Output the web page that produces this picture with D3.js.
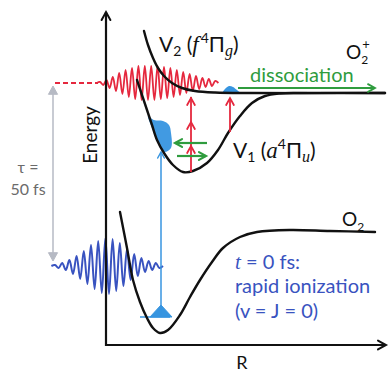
<!DOCTYPE html>
<html><head><meta charset="utf-8">
<script src="https://cdn.jsdelivr.net/npm/d3@7"></script>
<style>html,body{margin:0;padding:0;background:#fff}svg{display:block}</style>
</head><body>
<script>
// Potential energy curves, points as [R, E] (arbitrary units)
const groundCurve = [[0.14,1.33],[0.21,0.97],[0.27,0.65],[0.34,0.43],[0.41,0.27],[0.47,0.17],[0.54,0.12],[0.62,0.15],[0.74,0.30],[0.84,0.48],[0.94,0.65],[1.06,0.83],[1.17,0.97],[1.34,1.08],[1.51,1.13],[1.84,1.15],[2.24,1.14],[2.69,1.13]];
const v1Curve = [[0.31,2.65],[0.36,2.50],[0.41,2.35],[0.46,2.20],[0.51,2.05],[0.58,1.92],[0.67,1.80],[0.77,1.73],[0.87,1.74],[1.01,1.82],[1.12,1.95],[1.22,2.12],[1.34,2.29],[1.46,2.42],[1.59,2.49],[1.74,2.515],[1.94,2.52],[2.79,2.52]];
const v2Curve = [[0.38,3.14],[0.42,3.00],[0.47,2.87],[0.52,2.77],[0.58,2.69],[0.66,2.62],[0.76,2.57],[0.89,2.54],[1.09,2.525],[1.44,2.52],[2.79,2.52]];

// Laser pulses: crest amplitudes (alternating sign), first crest position, crest spacing, carrier level
const probeAmps = [0.01,0.02,0.03,0.05,0.06,0.08,0.10,0.11,0.13,0.14,0.15,0.16,0.17,0.17,0.17,0.17,0.17,0.17,0.17,0.16,0.16,0.15,0.15,0.14,0.13,0.12,0.11,0.10,0.09,0.08,0.07,0.06,0.05,0.04,0.04,0.03,0.02];
const probePulse = [-0.06, 0.032, 2.62];
const probeDashed = [-0.51, -0.08];
const pumpAmps = [0.01,0.02,0.03,0.04,0.06,0.08,0.10,0.13,0.15,0.18,0.21,0.23,0.25,0.27,0.28,0.28,0.27,0.25,0.23,0.20,0.17,0.14,0.12,0.10,0.08,0.06,0.05,0.04,0.03,0.02];
const pumpPulse = [-0.51, 0.036, 0.79];

// Wave packets
const groundLevel = [0.34, 0.64, 0.28];          // R from, R to, E
const groundPacket = [[0.44,0.28],[0.55,0.40],[0.66,0.28]];
const v1Packet = [[0.42,2.29],[0.48,2.25],[0.57,2.24],[0.63,2.20],[0.65,2.12],[0.65,1.97],[0.58,1.93],[0.51,2.04],[0.46,2.17]];
const dissocPacket = [[1.16,2.52],[1.19,2.56],[1.23,2.59],[1.27,2.58],[1.31,2.55],[1.35,2.52]];

// Transitions: [R, E from, E to]
const ionizationArrow = [0.55, 0.28, 1.93];
const probeArrowV1 = [0.85, 1.73, 2.48];
const probeArrowHeads = [2.47, 2.23, 1.99];
const probeArrowDiss = [1.24, 2.13, 2.47];
// Vibrational motion arrows: [R from, R to, E]
const motionLeft = [1.01, 0.69, 2.02];
const motionRight = [0.71, 1.00, 1.89];
const dissocArrow = [1.32, 2.69, 2.57];
// Pump-probe delay arrow: [R, E top, E bottom]
const delayArrow = [-0.53, 2.59, 0.84];

const W = 390, H = 372;
const x = d3.scaleLinear().domain([0, 2.8]).range([106, 386]);
const y = d3.scaleLinear().domain([0, 3.33]).range([345, 12]);

const RED = "#e5283e", BLUE = "#3953c0", SKY = "#3795e0", GREEN = "#2f9c3e", GRAY = "#b6bac4";
const SANS = "Lato, 'Open Sans', sans-serif";
const SERIF = "'Liberation Serif', 'DejaVu Serif', serif";

const svg = d3.select("body").append("svg").attr("width", W).attr("height", H);

const line = d3.line().x(d => x(d[0])).y(d => y(d[1]));
const smooth = d3.line().x(d => x(d[0])).y(d => y(d[1])).curve(d3.curveCatmullRom.alpha(0.5));

function pulsePoints(amps, p) {
  const [r0, step, e0] = p;
  const pts = [[r0 - step, e0]];
  amps.forEach((a, i) => pts.push([r0 + i * step, e0 + (i % 2 ? -a : a)]));
  pts.push([r0 + amps.length * step, e0]);
  return pts;
}

function head(g, px, py, dir, size, color, filled, sw) {
  // dir: angle in degrees, 0 = pointing right
  const a = dir * Math.PI / 180, s = size;
  const bx = px - Math.cos(a) * s, by = py - Math.sin(a) * s;
  const nx = -Math.sin(a) * s * 0.55, ny = Math.cos(a) * s * 0.55;
  const d = `M${bx + nx},${by + ny}L${px},${py}L${bx - nx},${by - ny}` + (filled ? "Z" : "");
  g.append("path").attr("d", d)
    .attr("fill", filled ? color : "none")
    .attr("stroke", color).attr("stroke-width", sw || 2)
    .attr("stroke-linejoin", "miter").attr("stroke-linecap", "round");
}

// Delay arrow between pump and probe
const gd = svg.append("g");
gd.append("line").attr("x1", x(delayArrow[0])).attr("x2", x(delayArrow[0]))
  .attr("y1", y(delayArrow[1]) + 4).attr("y2", y(delayArrow[2]) - 4)
  .attr("stroke", GRAY).attr("stroke-width", 1.5);
head(gd, x(delayArrow[0]), y(delayArrow[1]), -90, 8, GRAY, true, 1);
head(gd, x(delayArrow[0]), y(delayArrow[2]), 90, 8, GRAY, true, 1);

// Probe pulse
svg.append("line").attr("x1", x(probeDashed[0])).attr("x2", x(probeDashed[1]))
  .attr("y1", y(probePulse[2])).attr("y2", y(probePulse[2]))
  .attr("stroke", RED).attr("stroke-width", 1.8).attr("stroke-dasharray", "5,3");
svg.append("path").attr("d", smooth(pulsePoints(probeAmps, probePulse)))
  .attr("fill", "none").attr("stroke", RED).attr("stroke-width", 1.8);

// Pump pulse
svg.append("path").attr("d", smooth(pulsePoints(pumpAmps, pumpPulse)))
  .attr("fill", "none").attr("stroke", BLUE).attr("stroke-width", 2);

// Wave packets
svg.append("path").attr("d", line(groundPacket) + "Z").attr("fill", SKY).attr("stroke", SKY).attr("stroke-width", 1);
svg.append("line").attr("x1", x(groundLevel[0])).attr("x2", x(groundLevel[1]))
  .attr("y1", y(groundLevel[2])).attr("y2", y(groundLevel[2]))
  .attr("stroke", SKY).attr("stroke-width", 1.5);
svg.append("path").attr("d", d3.line().x(d => x(d[0])).y(d => y(d[1])).curve(d3.curveCatmullRomClosed)(v1Packet))
  .attr("fill", SKY).attr("opacity", 0.95);
svg.append("path").attr("d", smooth(dissocPacket) + "Z").attr("fill", SKY);

// Ionization transition
const gi = svg.append("g");
gi.append("line").attr("x1", x(ionizationArrow[0])).attr("x2", x(ionizationArrow[0]))
  .attr("y1", y(ionizationArrow[1])).attr("y2", y(ionizationArrow[2]))
  .attr("stroke", SKY).attr("stroke-width", 1.5);
head(gi, x(ionizationArrow[0]), y(ionizationArrow[2]), -90, 6, SKY, false, 1.5);

// Potential curves
[groundCurve, v1Curve, v2Curve].forEach(c =>
  svg.append("path").attr("d", smooth(c)).attr("fill", "none")
    .attr("stroke", "#111").attr("stroke-width", 2.4).attr("stroke-linecap", "round"));

// Probe transitions
const gp = svg.append("g");
gp.append("line").attr("x1", x(probeArrowV1[0])).attr("x2", x(probeArrowV1[0]))
  .attr("y1", y(probeArrowV1[1])).attr("y2", y(probeArrowV1[2]))
  .attr("stroke", RED).attr("stroke-width", 1.8);
probeArrowHeads.forEach(e => head(gp, x(probeArrowV1[0]), y(e), -90, 7, RED, false, 1.8));
gp.append("line").attr("x1", x(probeArrowDiss[0])).attr("x2", x(probeArrowDiss[0]))
  .attr("y1", y(probeArrowDiss[1])).attr("y2", y(probeArrowDiss[2]))
  .attr("stroke", RED).attr("stroke-width", 1.8);
head(gp, x(probeArrowDiss[0]), y(probeArrowDiss[2]), -90, 7, RED, false, 1.8);

// Nuclear motion arrows
const gm = svg.append("g");
[[motionLeft, 180], [motionRight, 0]].forEach(([m, dir]) => {
  gm.append("line").attr("x1", x(m[0])).attr("x2", x(m[1])).attr("y1", y(m[2])).attr("y2", y(m[2]))
    .attr("stroke", GREEN).attr("stroke-width", 2.2);
  head(gm, x(m[1]), y(m[2]), dir, 7, GREEN, false, 2.2);
});
gm.append("line").attr("x1", x(dissocArrow[0])).attr("x2", x(dissocArrow[1]))
  .attr("y1", y(dissocArrow[2])).attr("y2", y(dissocArrow[2]))
  .attr("stroke", GREEN).attr("stroke-width", 1.8);
head(gm, x(dissocArrow[1]), y(dissocArrow[2]), 0, 7, GREEN, false, 1.8);

// Axes
const ga = svg.append("g");
ga.append("path").attr("d", `M${x(0)},${y(3.33)}L${x(0)},${y(0)}L${x(2.8)},${y(0)}`)
  .attr("fill", "none").attr("stroke", "#111").attr("stroke-width", 2.2);
head(ga, x(0), y(3.33), -90, 8, "#111", false, 2);
head(ga, x(2.8), y(0), 0, 8, "#111", false, 2);

// Text
function txt(px, py, parts, opt) {
  const t = svg.append("text").attr("x", px).attr("y", py)
    .attr("font-family", SANS).attr("font-size", opt.size).attr("fill", opt.color);
  if (opt.rotate) t.attr("transform", `rotate(${opt.rotate},${px},${py})`).attr("text-anchor", "middle");
  if (opt.anchor) t.attr("text-anchor", opt.anchor);
  parts.forEach(p => {
    const s = t.append("tspan").text(p.t);
    if (p.dy) s.attr("dy", p.dy);
    if (p.dx) s.attr("dx", p.dx);
    if (p.sz) s.attr("font-size", p.sz);
    if (p.it) s.attr("font-family", SERIF).attr("font-style", "italic");
  });
  return t;
}

txt(97, 135, [{t: "Energy"}], {size: 19, color: "#111", rotate: -90});
txt(242, 369, [{t: "R"}], {size: 18, color: "#111", anchor: "middle"});
txt(28, 173, [{t: "τ ="}], {size: 16, color: "#6b6b6b", anchor: "middle"});
txt(28, 195, [{t: "50 fs"}], {size: 16, color: "#6b6b6b", anchor: "middle"});

txt(159, 52, [
  {t: "V"}, {t: "2", sz: 14, dy: 4}, {t: " (", dy: -4}, {t: "f", it: true, sz: 23},
  {t: "4", sz: 14, dy: -9, dx: 2}, {t: "Π", dy: 9}, {t: "g", it: true, sz: 16, dy: 4}, {t: ")", dy: -4}
], {size: 21, color: "#111"});
txt(233, 158, [
  {t: "V"}, {t: "1", sz: 14, dy: 4}, {t: " (", dy: -4}, {t: "a", it: true, sz: 23},
  {t: "4", sz: 14, dy: -9}, {t: "Π", dy: 9}, {t: "u", it: true, sz: 16, dy: 4}, {t: ")", dy: -4}
], {size: 21, color: "#111"});
txt(346, 59, [{t: "O"}, {t: "2", sz: 12, dy: 5}, {t: "+", sz: 13, dy: -15, dx: -6}], {size: 19, color: "#111"});
txt(342, 226, [{t: "O"}, {t: "2", sz: 12, dy: 5}], {size: 19, color: "#111"});
txt(250, 82, [{t: "dissociation"}], {size: 20, color: GREEN});

txt(235, 269, [{t: "t", it: true, sz: 21}, {t: " = 0 fs:"}], {size: 20, color: BLUE});
txt(235, 293, [{t: "rapid ionization"}], {size: 20, color: BLUE});
txt(235, 318, [{t: "(v = J = 0)"}], {size: 20, color: BLUE});
</script>
</body></html>
